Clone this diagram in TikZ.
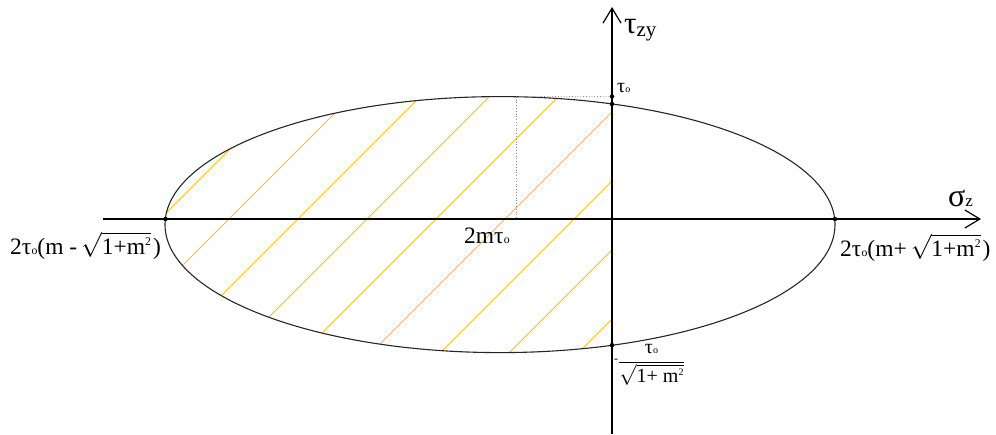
\documentclass[tikz,border=0pt]{standalone}
\usepackage{fontspec}
\setmainfont{Liberation Serif}
\usepackage{graphicx}
\usetikzlibrary{arrows.meta}
\definecolor{hatchc}{RGB}{255,190,20}
\definecolor{dotc}{RGB}{140,140,140}
\newcommand{\tauo}{τ\kern0.2pt\scalebox{0.5}{o}}
\newcommand{\sqtwo}{\raisebox{0.75ex}{\scalebox{0.5}{2}}}
\begin{document}
\begin{tikzpicture}[x=1pt,y=-1pt,
  axisline/.style={line width=1.2pt,-{Straight Barb[length=15pt,width=18pt]}},
  curve/.style={line width=1.1pt,draw=black!85},
  hatchline/.style={line width=0.9pt,draw=hatchc},
  guide/.style={line width=0.8pt,draw=dotc,dotted},
  pt/.style={circle,fill=black,inner sep=0pt,minimum size=4.5pt},
  lbl/.style={inner sep=0pt,anchor=base west,font=\fontsize{23.5}{26}\selectfont}]
\useasboundingbox (0,0) rectangle (996,434);
% hatching
\begin{scope}
  \clip (500,224.6) ellipse [x radius=335, y radius=128];
  \clip (0,0) rectangle (612,434);
  \foreach \xo in {160,229,298,367,436,505,574,643,712}
    \draw[hatchline] (\xo-300,519) -- (\xo+300,-81);
\end{scope}
% ellipse
\draw[curve] (500,224.6) ellipse [x radius=335, y radius=128];
% axes
\coordinate (hs) at (103,219);
\coordinate (he) at (981,219);
\coordinate (vs) at (612,434);
\coordinate (ve) at (612,7);
\draw[axisline] (hs) -- (he);
\draw[axisline] (vs) -- (ve);
% guides
\coordinate (top) at (516,96.7);
\coordinate (foot) at (516,219);
\node[pt] (T0) at (612,96.5) {};
\draw[guide] (top) -- (T0);
\draw[guide] (top) -- (foot);
% points
\node[pt] (L) at (165.5,219) {};
\node[pt] (R) at (835,219) {};
\node[pt] (Cu) at (612,104) {};
\node[pt] (Cd) at (612,345.2) {};
% labels
\node[inner sep=0pt,anchor=base west] (tzy) at (624,33)
  {{\fontsize{31}{33}\selectfont τ}\raisebox{-3pt}{\fontsize{21}{23}\selectfont zy}};
\node[inner sep=0pt,anchor=base west] (sz) at (948,206)
  {{\fontsize{32}{34}\selectfont σ}{\fontsize{17}{19}\selectfont z}};
\node[inner sep=0pt,anchor=base west,font=\fontsize{20}{22}\selectfont] (t0) at (617,92) {\tauo};
\node[lbl] (ll) at (10,254) {2\tauo(m -\,$\sqrt{\mbox{1+m\sqtwo}}$\kern2pt)};
\node[lbl] (rl) at (840,256) {2\tauo(m+\,$\sqrt{\mbox{1+m\sqtwo}}$\kern2pt)};
\node[lbl] (cl) at (464,243) {2m\tauo};
\node[inner sep=0pt,anchor=west,font=\fontsize{20}{22}\selectfont] (fl) at (614,365)
  {\raisebox{5pt}{\scalebox{0.6}{-}}$\displaystyle\frac{\mbox{\tauo}}{\sqrt{\mbox{1+ m\sqtwo}}}$};
\end{tikzpicture}
\end{document}
